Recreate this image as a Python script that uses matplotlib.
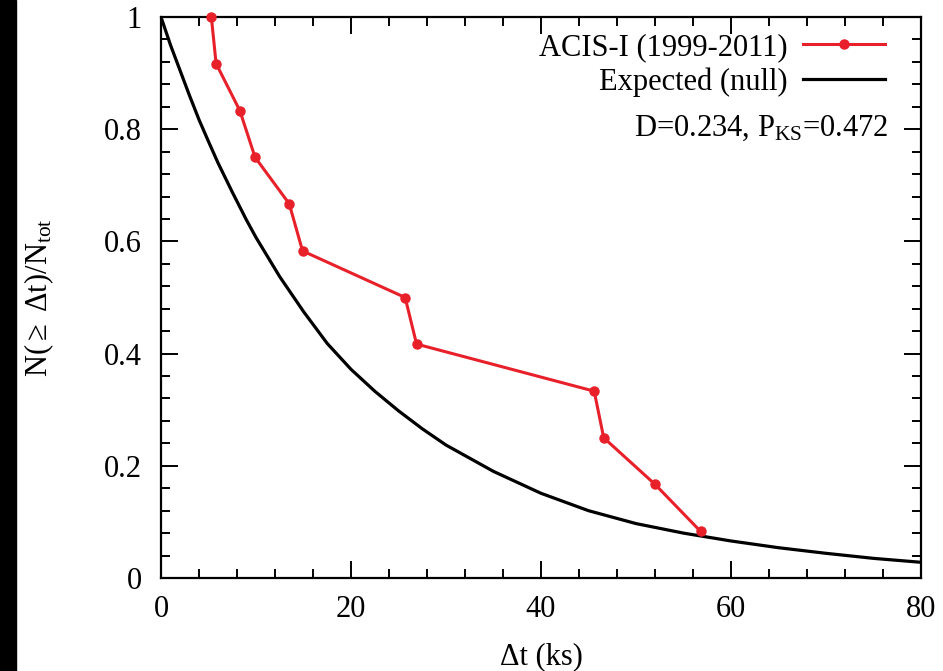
import numpy as np
import matplotlib
matplotlib.use('Agg')
import matplotlib.pyplot as plt
from matplotlib.ticker import AutoMinorLocator

# 观测数据 (ACIS-I 1999-2011)
dt_obs = [5.3, 5.8, 8.3, 9.9, 13.5, 14.9, 25.7, 26.9, 45.6, 46.6, 52.0, 56.8]
frac_obs = [1.0, 0.917, 0.833, 0.75, 0.667, 0.583, 0.5, 0.417, 0.333, 0.25, 0.167, 0.083]

# 零假设期望曲线
dt_exp = [0, 1, 2, 3, 4, 5, 6, 7.5, 9, 10, 12.5, 15, 17.5, 20, 22.5, 25, 27.5, 30,
          35, 40, 45, 50, 55, 60, 65, 70, 75, 80]
frac_exp = [1.0, 0.950, 0.905, 0.860, 0.817, 0.778, 0.740, 0.688, 0.638, 0.607, 0.537,
            0.475, 0.418, 0.372, 0.333, 0.298, 0.266, 0.237, 0.190, 0.151, 0.120,
            0.097, 0.080, 0.066, 0.054, 0.044, 0.035, 0.028]

x_ticks = [0, 20, 40, 60, 80]
y_ticks = [0, 0.2, 0.4, 0.6, 0.8, 1]
y_tick_labels = ['0', '0.2', '0.4', '0.6', '0.8', '1']

plt.rcParams['font.family'] = ['Liberation Serif', 'DejaVu Serif']
plt.rcParams['mathtext.fontset'] = 'custom'
plt.rcParams['mathtext.rm'] = 'Liberation Serif'
plt.rcParams['mathtext.it'] = 'Liberation Serif:italic'
plt.rcParams['mathtext.bf'] = 'Liberation Serif:bold'

fs = 22

fig = plt.figure(figsize=(9.43, 6.71), dpi=100)
fig.patches.append(plt.Rectangle((0, 0), 16 / 943, 1, transform=fig.transFigure,
                                 color='black', zorder=0))
ax = fig.add_axes([161 / 943, 1 - 578 / 671, (921 - 161) / 943, (578 - 17) / 671])

ax.plot(dt_obs, frac_obs, color='#e8202a', lw=2.2, marker='o', ms=6.5,
        label='ACIS-I (1999-2011)', clip_on=False, zorder=3)
ax.plot(dt_exp, frac_exp, color='black', lw=2.3, label='Expected (null)', zorder=2)

ax.set_xlim(0, 80)
ax.set_ylim(0, 1)
ax.set_xticks(x_ticks)
ax.set_xticklabels([str(v) for v in x_ticks])
ax.set_yticks(y_ticks)
ax.set_yticklabels(y_tick_labels)
ax.xaxis.set_minor_locator(AutoMinorLocator(5))
ax.yaxis.set_minor_locator(AutoMinorLocator(5))
ax.tick_params(which='both', direction='in', top=True, right=True, width=1.4,
               labelsize=fs)
ax.tick_params(which='major', length=12)
ax.tick_params(which='minor', length=6.5)
ax.tick_params(axis='x', pad=12)
ax.tick_params(axis='y', pad=14)
for s in ax.spines.values():
    s.set_linewidth(1.6)

ax.set_xlabel('Δt (ks)', fontsize=fs, labelpad=13)
ax.set_ylabel(r'N($\geq$ Δt)/N$_{\mathrm{tot}}$', fontsize=fs, labelpad=34)

leg = ax.legend(loc='upper right', bbox_to_anchor=((885 - 161) / 760, 1 - (33 - 17) / 561),
                frameon=False, markerfirst=False, fontsize=fs, handlelength=2.7,
                handletextpad=0.5, labelspacing=0.18, borderpad=0, borderaxespad=0)
ax.text((888 - 161) / 760, (578 - 128) / 561, r'D=0.234, P$_{\mathrm{KS}}$=0.472',
        transform=ax.transAxes, ha='right', va='center', fontsize=fs)

fig.savefig('out.png', dpi=100, facecolor='white')
